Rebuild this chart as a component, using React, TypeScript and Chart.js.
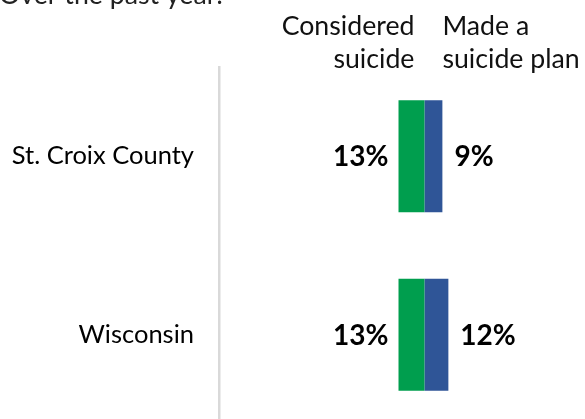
import React, { useEffect, useRef } from "react";
import { Chart, registerables } from "chart.js";

Chart.register(...registerables);

const categories = ["St. Croix County", "Wisconsin"];
const consideredSuicide = [13, 13];
const madeSuicidePlan = [9, 12];
const seriesHeaders = [["Considered", "suicide"], ["Made a", "suicide plan"]];
const titleText = "Over the past year:";

const FONT = "Lato, 'DejaVu Sans', sans-serif";
const GREEN = "#009E4E";
const BLUE = "#2F5597";

export default function App() {
  const ref = useRef<HTMLCanvasElement | null>(null);

  useEffect(() => {
    document.body.style.margin = "0";
    document.body.style.overflow = "hidden";
    const canvas = ref.current!;
    const labelPlugin = {
      id: "customLabels",
      afterDatasetsDraw(chart: any) {
        const ctx = chart.ctx;
        ctx.save();
        ctx.fillStyle = "#000";
        ctx.font = `bold 28px ${FONT}`;
        ctx.textBaseline = "middle";
        chart.data.datasets.forEach((ds: any, di: number) => {
          const meta = chart.getDatasetMeta(di);
          meta.data.forEach((el: any, i: number) => {
            const v = Math.abs(ds.data[i]);
            const txt = `${v}%`;
            if (ds.data[i] < 0) {
              ctx.textAlign = "right";
              ctx.fillText(txt, el.x - 10, el.y + 1);
            } else {
              ctx.textAlign = "left";
              ctx.fillText(txt, el.x + 12, el.y + 1);
            }
          });
        });
        // headers
        const xs = chart.scales.x;
        const zero = xs.getPixelForValue(0);
        ctx.font = `26.7px ${FONT}`;
        ctx.textBaseline = "alphabetic";
        ctx.fillStyle = "#111";
        ctx.textAlign = "right";
        ctx.fillText(seriesHeaders[0][0], zero - 10, 35);
        ctx.fillText(seriesHeaders[0][1], zero - 10, 68);
        ctx.textAlign = "left";
        ctx.fillText(seriesHeaders[1][0], zero + 18, 35);
        ctx.fillText(seriesHeaders[1][1], zero + 18, 68);
        // title (cut off at top)
        ctx.textAlign = "left";
        ctx.fillStyle = "#222";
        ctx.fillText(titleText, -1, 4);
        ctx.restore();
      },
    };

    const chart = new Chart(canvas, {
      type: "bar",
      data: {
        labels: categories,
        datasets: [
          {
            label: "Considered suicide",
            data: consideredSuicide.map((v) => -v),
            backgroundColor: GREEN,
            categoryPercentage: 0.628,
            barPercentage: 1,
          },
          {
            label: "Made a suicide plan",
            data: madeSuicidePlan,
            backgroundColor: BLUE,
            categoryPercentage: 0.628,
            barPercentage: 1,
          },
        ],
      },
      options: {
        indexAxis: "y",
        responsive: false,
        maintainAspectRatio: false,
        animation: false,
        layout: { padding: { top: 67, left: 0, right: 0, bottom: 0 } },
        plugins: {
          legend: { display: false },
          tooltip: { enabled: false },
        },
        scales: {
          x: {
            stacked: true,
            display: false,
            min: -103,
            max: 80.5,
          },
          y: {
            stacked: true,
            grid: { display: false, drawTicks: false },
            border: { display: true, color: "#D9D9D9", width: 2.5 },
            ticks: {
              color: "#000",
              font: { family: FONT, size: 25.5 },
              padding: 25,
            },
            afterFit: (s: any) => {
              s.width = 219;
              s.paddingTop = 0;
              s.paddingBottom = 0;
            },
          },
        },
      },
      plugins: [labelPlugin],
    });
    return () => chart.destroy();
  }, []);

  return (
    <div style={{ position: "fixed", top: 0, left: 0, width: 585, height: 424 }}>
      <canvas ref={ref} width={585} height={424} style={{ display: "block", width: 585, height: 424 }} />
    </div>
  );
}
